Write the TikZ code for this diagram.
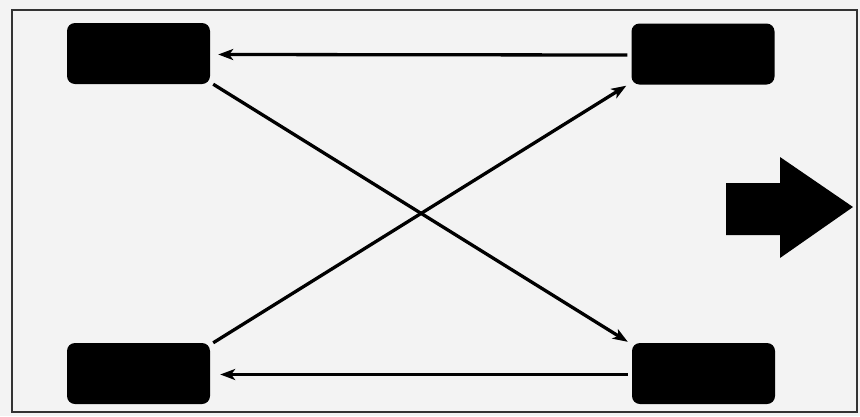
\documentclass[tikz,border=0pt]{standalone}
\usetikzlibrary{arrows.meta}
\definecolor{bg}{HTML}{F3F3F3}
\tikzset{
  tyre/.style={fill=black, rounded corners=8pt, inner sep=0pt, minimum width=143pt, minimum height=61pt},
  flow/.style={line width=3.3pt, -{Stealth[length=15pt,width=11pt,inset=4pt]}},
}
\begin{document}
\begin{tikzpicture}[x=1pt,y=-1pt]
\useasboundingbox (0,0) rectangle (860,416);
\fill[bg] (0,0) rectangle (860,416);
\draw[line width=2pt, black!80] (12,10) rectangle (857,412);
% tyres
\node[tyre] (tl) at (138.5,53.5) {};
\node[tyre] (tr) at (703,54) {};
\node[tyre] (bl) at (138.5,373.5) {};
\node[tyre] (br) at (703.5,373.5) {};
% rotation
\draw[flow] ([xshift=-4pt,yshift=-1pt]tr.west) -- ([xshift=8pt,yshift=-1pt]tl.east);
\draw[flow] ([xshift=-4pt,yshift=-1pt]br.west) -- ([xshift=10pt,yshift=-1pt]bl.east);
\draw[flow] ([xshift=3pt]tl.south east) -- ([xshift=-4pt,yshift=1pt]br.north west);
\draw[flow] ([xshift=3pt]bl.north east) -- ([xshift=-5pt,yshift=-1pt]tr.south west);
% direction arrow
\fill[black] (726,183) -- (780,183) -- (780,157) -- (853,207) -- (780,258) -- (780,235) -- (726,235) -- cycle;
\end{tikzpicture}
\end{document}
